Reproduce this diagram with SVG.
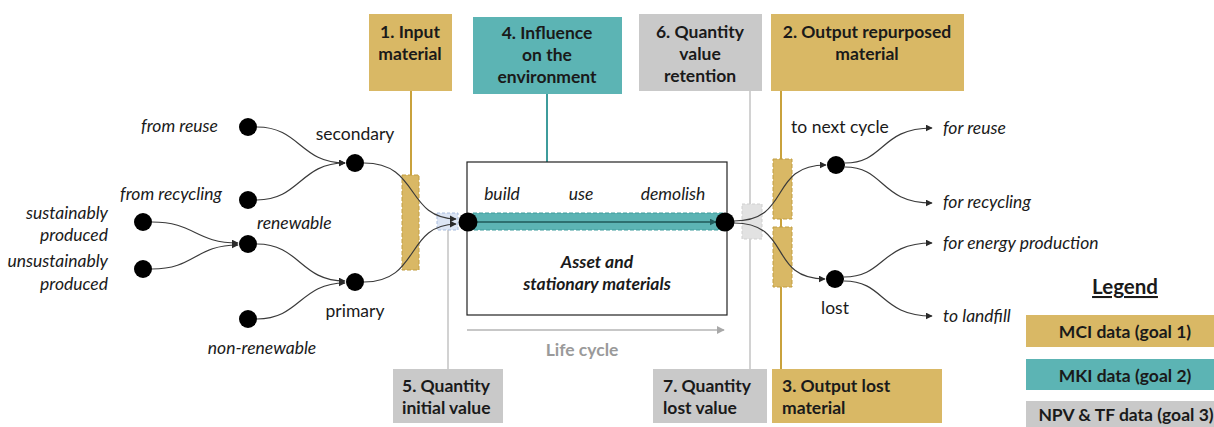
<svg xmlns="http://www.w3.org/2000/svg" width="1214" height="427" viewBox="0 0 1214 427">
<style>
text{font-family:Lato,"Liberation Sans",sans-serif;fill:#1a1a1a}
.bl{font-weight:bold;font-size:17.5px}
.it{font-style:italic;font-size:17.5px}
.rg{font-size:17.5px}
.gold{fill:#D9B865}
.teal{fill:#5CB4B4}
.grey{fill:#C9C9C9}
.dot{fill:#000}
.cur{fill:none;stroke:#3a3a3a;stroke-width:1.2}
.dgold{fill:#D9B865;stroke:#C29E42;stroke-width:1;stroke-dasharray:4 2}
</style>
<defs>
<marker id="ah" viewBox="0 0 10 10" refX="9" refY="5" markerWidth="7" markerHeight="7" markerUnits="userSpaceOnUse" orient="auto">
<path d="M0,0 L10,5 L0,10 z" fill="#2a2a2a"/>
</marker>
<marker id="ahg" viewBox="0 0 10 10" refX="9" refY="5" markerWidth="8" markerHeight="8" markerUnits="userSpaceOnUse" orient="auto">
<path d="M0,0 L10,5 L0,10 z" fill="#A8A8A8"/>
</marker>
<marker id="aht" viewBox="0 0 10 10" refX="9" refY="5" markerWidth="7" markerHeight="7" markerUnits="userSpaceOnUse" orient="auto">
<path d="M0,0 L10,5 L0,10 z" fill="#1f5a5a"/>
</marker>
</defs>
<rect width="1214" height="427" fill="#fff"/>

<!-- leader lines -->
<g id="leaders">
<line x1="411" y1="90" x2="411" y2="175" stroke="#C9A23C" stroke-width="2"/>
<line x1="547" y1="94" x2="547" y2="214" stroke="#3E9C9C" stroke-width="2"/>
<line x1="750" y1="90" x2="750" y2="369" stroke="#D2D2D2" stroke-width="2"/>
<line x1="781" y1="90" x2="781" y2="369" stroke="#C9A23C" stroke-width="2"/>
<line x1="448" y1="229" x2="448" y2="369" stroke="#D2D2D2" stroke-width="2"/>
</g>

<!-- main asset box -->
<g id="asset">
<rect x="467" y="162" width="260" height="153" fill="#fff" stroke="#222" stroke-width="1.2"/>
<rect x="473" y="213" width="252" height="17" fill="#5CB4B4" stroke="#3E9C9C" stroke-width="1" stroke-dasharray="4 2"/>
<line x1="476" y1="222" x2="716" y2="222" stroke="#1f5a5a" stroke-width="1.3" marker-end="url(#aht)"/>
<text class="it" x="502" y="200" text-anchor="middle">build</text>
<text class="it" x="581" y="200" text-anchor="middle">use</text>
<text class="it" x="673" y="200" text-anchor="middle">demolish</text>
<text class="bl" x="597" y="268" text-anchor="middle" font-style="italic">Asset and</text>
<text class="bl" x="597" y="290" text-anchor="middle" font-style="italic">stationary materials</text>
</g>

<!-- life cycle -->
<g id="lifecycle">
<line x1="467" y1="330" x2="724" y2="330" stroke="#B5B5B5" stroke-width="1.3" marker-end="url(#ahg)"/>
<text x="582" y="356" text-anchor="middle" font-size="17.5" font-weight="bold" style="fill:#9a9a9a">Life cycle</text>
</g>

<!-- dashed markers -->
<g id="zones">
<rect class="dgold" x="402" y="175" width="17" height="95"/>
<rect x="437" y="213" width="21" height="17" fill="#DCE5F4" stroke="#A8BCDD" stroke-width="1" stroke-dasharray="3 2"/>
<rect x="742" y="204" width="20" height="35" fill="#E2E2E2" stroke="#D0D0D0" stroke-width="1" stroke-dasharray="3 2"/>
<rect class="dgold" x="773" y="159" width="19" height="60"/>
<rect class="dgold" x="773" y="227" width="19" height="60"/>
</g>

<!-- connectors -->
<g id="connectors">
<path class="cur" d="M257 127 C300 127 300 163 345 163" marker-end="url(#ah)"/>
<path class="cur" d="M257 200 C300 200 300 163 345 163" marker-end="url(#ah)"/>
<path class="cur" d="M152 222 C195 222 195 243 238 243" marker-end="url(#ah)"/>
<path class="cur" d="M152 269 C195 269 195 245 238 245" marker-end="url(#ah)"/>
<path class="cur" d="M257 244 C300 244 300 281 345 281" marker-end="url(#ah)"/>
<path class="cur" d="M257 319 C300 319 300 283 345 283" marker-end="url(#ah)"/>
<path class="cur" d="M364 163 C420 163 405 218 456 219" marker-end="url(#ah)"/>
<path class="cur" d="M364 282 C420 282 405 225 456 224" marker-end="url(#ah)"/>
<path class="cur" d="M734 221 C792 221 768 165 826 165" marker-end="url(#ah)"/>
<path class="cur" d="M734 223 C792 223 768 279 825 279" marker-end="url(#ah)"/>
<path class="cur" d="M845 163 C885 163 880 128 932 128" marker-end="url(#ah)"/>
<path class="cur" d="M845 167 C885 167 880 203 932 203" marker-end="url(#ah)"/>
<path class="cur" d="M844 277 C885 277 880 243 932 243" marker-end="url(#ah)"/>
<path class="cur" d="M844 281 C885 281 880 316 932 316" marker-end="url(#ah)"/>
</g>

<!-- flow nodes -->
<g id="n-from-reuse"><circle class="dot" cx="248" cy="127" r="9"/><text class="it" x="218" y="132" text-anchor="end">from reuse</text></g>
<g id="n-from-recycling"><circle class="dot" cx="248" cy="200" r="9"/><text class="it" x="222" y="200" text-anchor="end">from recycling</text></g>
<g id="n-secondary"><circle class="dot" cx="355" cy="163" r="9"/><text class="rg" x="355" y="140" text-anchor="middle">secondary</text></g>
<g id="n-sustainably"><circle class="dot" cx="143" cy="222" r="9"/><text class="it" x="108" y="219" text-anchor="end">sustainably</text><text class="it" x="108" y="241" text-anchor="end">produced</text></g>
<g id="n-unsustainably"><circle class="dot" cx="143" cy="269" r="9"/><text class="it" x="108" y="267" text-anchor="end">unsustainably</text><text class="it" x="108" y="290" text-anchor="end">produced</text></g>
<g id="n-renewable"><circle class="dot" cx="248" cy="244" r="9"/><text class="it" x="257" y="229">renewable</text></g>
<g id="n-primary"><circle class="dot" cx="355" cy="282" r="9"/><text class="rg" x="355" y="317" text-anchor="middle">primary</text></g>
<g id="n-non-renewable"><circle class="dot" cx="248" cy="319" r="9"/><text class="it" x="262" y="354" text-anchor="middle">non-renewable</text></g>
<g id="n-start"><circle class="dot" cx="468" cy="222" r="9.5"/></g>
<g id="n-end"><circle class="dot" cx="725" cy="222" r="9.5"/></g>
<g id="n-next-cycle"><circle class="dot" cx="836" cy="165" r="9"/><text class="rg" x="791" y="133">to next cycle</text></g>
<g id="n-lost"><circle class="dot" cx="835" cy="279" r="9"/><text class="rg" x="835" y="314" text-anchor="middle">lost</text></g>
<g id="n-for-reuse"><text class="it" x="943" y="134">for reuse</text></g>
<g id="n-for-recycling"><text class="it" x="943" y="208">for recycling</text></g>
<g id="n-for-energy"><text class="it" x="943" y="249">for energy production</text></g>
<g id="n-to-landfill"><text class="it" x="943" y="322">to landfill</text></g>

<!-- label boxes -->
<g id="b1"><rect class="gold" x="369" y="14" width="83" height="77"/><text class="bl" x="410" y="38" text-anchor="middle">1. Input</text><text class="bl" x="410" y="60" text-anchor="middle">material</text></g>
<g id="b4"><rect class="teal" x="473" y="17" width="149" height="77"/><text class="bl" x="547" y="39" text-anchor="middle">4. Influence</text><text class="bl" x="547" y="61" text-anchor="middle">on the</text><text class="bl" x="547" y="83" text-anchor="middle">environment</text></g>
<g id="b6"><rect class="grey" x="639" y="14" width="123" height="77"/><text class="bl" x="700" y="38" text-anchor="middle">6. Quantity</text><text class="bl" x="700" y="60" text-anchor="middle">value</text><text class="bl" x="700" y="82" text-anchor="middle">retention</text></g>
<g id="b2"><rect class="gold" x="771" y="14" width="193" height="77"/><text class="bl" x="867" y="38" text-anchor="middle">2. Output repurposed</text><text class="bl" x="867" y="60" text-anchor="middle">material</text></g>
<g id="b5"><rect class="grey" x="393" y="369" width="110" height="54"/><text class="bl" x="402" y="392">5. Quantity</text><text class="bl" x="402" y="414">initial value</text></g>
<g id="b7"><rect class="grey" x="653" y="369" width="114" height="54"/><text class="bl" x="663" y="392">7. Quantity</text><text class="bl" x="663" y="414">lost value</text></g>
<g id="b3"><rect class="gold" x="772" y="369" width="170" height="54"/><text class="bl" x="782" y="392">3. Output lost</text><text class="bl" x="782" y="414">material</text></g>

<!-- legend -->
<g id="legend">
<text x="1125" y="294" text-anchor="middle" font-size="20.5" font-weight="bold" text-decoration="underline">Legend</text>
<rect class="gold" x="1026" y="315" width="190" height="32"/>
<text class="bl" x="1125" y="338" text-anchor="middle">MCI data (goal 1)</text>
<rect class="teal" x="1026" y="359" width="190" height="31"/>
<text class="bl" x="1125" y="382" text-anchor="middle">MKI data (goal 2)</text>
<rect class="grey" x="1026" y="401" width="190" height="30"/>
<text class="bl" x="1126" y="421" text-anchor="middle">NPV &amp; TF data (goal 3)</text>
</g>
</svg>
